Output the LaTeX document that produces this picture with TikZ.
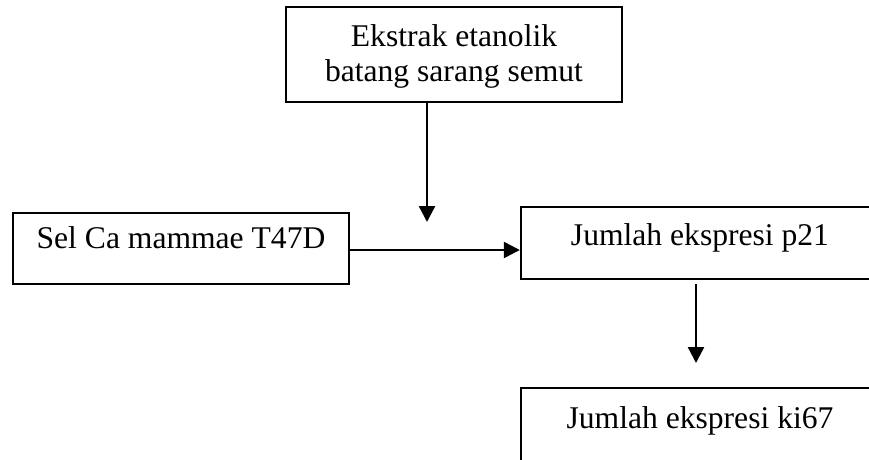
\documentclass[tikz,border=0pt]{standalone}
\usepackage{fontspec}
\setmainfont{Liberation Serif}
\usetikzlibrary{arrows.meta}
\begin{document}
\begin{tikzpicture}[x=1pt,y=-1pt,
  box/.style={draw=black,line width=2.4pt,rectangle,inner sep=0pt},
  lbl/.style={font=\fontsize{31.6}{36}\selectfont,anchor=base,inner sep=0pt},
  arr/.style={draw=black,line width=2.4pt,-{Triangle[length=16pt,width=16pt]}}]
\useasboundingbox (0,0) rectangle (869,459);
\clip (0,0) rectangle (869,459);
% boxes
\node[box,minimum width=336pt,minimum height=95pt] (top) at (454,54.5) {};
\node[box,minimum width=336pt,minimum height=71pt] (sel) at (181,248.5) {};
\node[box,minimum width=379pt,minimum height=72pt] (p21) at (710.5,243) {};
\node[box,minimum width=379pt,minimum height=92pt] (ki) at (710.5,434) {};
% texts
\node[lbl] (t1) at (454,46.5) {Ekstrak etanolik};
\node[lbl] (t2) at (454,81.5) {batang sarang semut};
\node[lbl] (tsel) at (181,248) {Sel Ca mammae T47D};
\node[lbl] (tp21) at (700,245) {Jumlah ekspresi p21};
\node[lbl] (tki) at (700,428) {Jumlah ekspresi ki67};
% connectors
\coordinate (tipA) at (427,222);
\coordinate (tipB) at (696,363);
\draw[arr] (top.south -| tipA) -- (tipA);
\draw[arr] (sel.east |- 0,250) -- (p21.west |- 0,250);
\draw[arr] ([yshift=-4pt]p21.south -| tipB) -- (tipB);
\end{tikzpicture}
\end{document}
